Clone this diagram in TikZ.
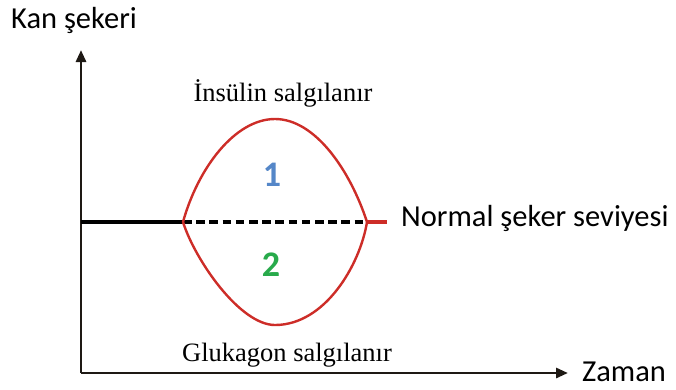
\documentclass[tikz,border=0pt]{standalone}
\usepackage{fontspec}
\setmainfont{Liberation Serif}
\newfontfamily\calib{Carlito}
\usetikzlibrary{arrows.meta}
\definecolor{curvered}{RGB}{205,45,40}
\definecolor{numblue}{RGB}{85,135,200}
\definecolor{numgreen}{RGB}{40,170,75}
\definecolor{axisblack}{RGB}{30,25,20}
\tikzset{
  axisline/.style={draw=axisblack, line width=2.8pt, -{Triangle[length=12pt,width=10pt]}},
  normline/.style={draw=black, line width=3.8pt},
  dashline/.style={draw=black, line width=3.4pt, dash pattern=on 8.5pt off 4.7pt},
  redcurve/.style={draw=curvered, line width=2.4pt, line join=round},
  sanslabel/.style={font=\calib\fontsize{30.5}{36}\selectfont, inner sep=0pt},
  seriflabel/.style={font=\fontsize{26.5}{32}\selectfont, inner sep=0pt},
  numlabel/.style={font=\calib\bfseries\fontsize{36}{40}\selectfont, inner sep=0pt},
}
\begin{document}
\begin{tikzpicture}[x=1pt,y=-1pt]
\useasboundingbox (0,0) rectangle (676,389);
% axes
\coordinate (O) at (81,373);
\coordinate (ytop) at (81,50);
\coordinate (xend) at (568,373);
\draw[axisline] (O) -- (ytop);
\draw[axisline] (O) -- (xend);
% normal level
\coordinate (n0) at (81,222);
\coordinate (s) at (183,222);
\coordinate (e) at (367,222);
\coordinate (r) at (387,222);
\coordinate (top) at (275,119);
\coordinate (bot) at (275,325);
\draw[normline] (n0) -- (s);
\draw[dashline] (s) -- (e);
\draw[draw=curvered, line width=3.8pt] (e) -- (r);
% curves
\draw[redcurve] (s) .. controls (198,168) and (235,119) .. (top)
  .. controls (315,119) and (350,170) .. (e);
\draw[redcurve] (s) .. controls (195,260) and (240,325) .. (bot)
  .. controls (325,325) and (360,265) .. (e);
% labels
\node[sanslabel, anchor=base west] (ky) at (11,28) {Kan şekeri};
\node[sanslabel, anchor=base west] (kx) at (582,381) {Zaman};
\node[sanslabel, anchor=base west] (kn) at (401,226) {Normal şeker seviyesi};
\node[seriflabel, anchor=base] (ins) at (283,101) {İnsülin salgılanır};
\node[seriflabel, anchor=base] (glu) at (287,361) {Glukagon salgılanır};
\node[numlabel, text=numblue, anchor=base] (one) at (272,186) {1};
\node[numlabel, text=numgreen, anchor=base] (two) at (271,276) {2};
\end{tikzpicture}
\end{document}
